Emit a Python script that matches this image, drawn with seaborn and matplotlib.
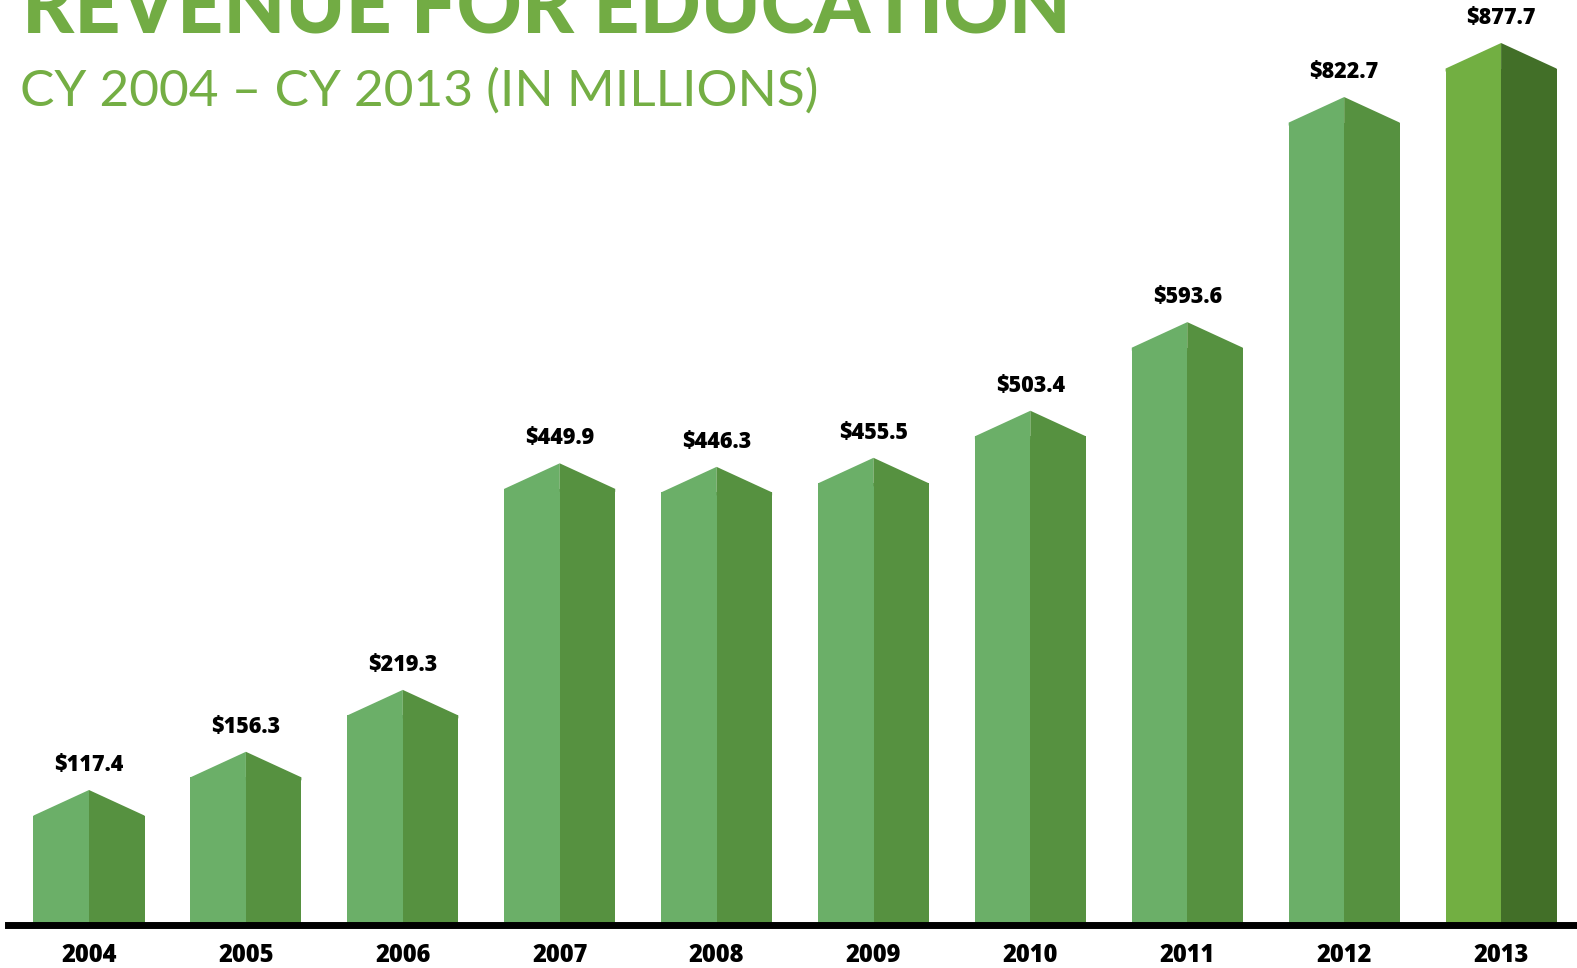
import matplotlib
matplotlib.use("Agg")
import matplotlib.pyplot as plt
import seaborn as sns
import pandas as pd

# dados (milhões de dólares)
anos = ["2004", "2005", "2006", "2007", "2008", "2009", "2010", "2011", "2012", "2013"]
receita = [117.4, 156.3, 219.3, 449.9, 446.3, 455.5, 503.4, 593.6, 822.7, 877.7]
rotulos = ["$117.4", "$156.3", "$219.3", "$449.9", "$446.3",
           "$455.5", "$503.4", "$593.6", "$822.7", "$877.7"]

titulo = "REVENUE FOR EDUCATION"
subtitulo = "CY 2004 \u2013 CY 2013 (IN MILLIONS)"

# estilo
VERDE_TITULO = "#72ac44"
CLARO, ESCURO = "#6baf68", "#569140"
CLARO_DESTAQUE, ESCURO_DESTAQUE = "#72af42", "#426f28"
TELHADO = 26          # altura do "telhado" de cada barra
LARGURA = 0.7075
BASE = -21            # as barras nascem abaixo da linha preta

sns.set_theme(style="white")
plt.rcParams["font.family"] = ["Open Sans", "DejaVu Sans"]

W, H = 1577, 968
fig = plt.figure(figsize=(W / 100, H / 100), dpi=100)
# eixo: começa em x=8px, base em y=925px
ax = fig.add_axes([8 / W, (H - 925) / H, 1 - 8 / W, 925 / H])

corpo = [v - TELHADO for v in receita]
df = pd.DataFrame({
    "ano": anos * 2,
    "altura": [c - BASE for c in corpo] * 2,
    "lado": ["esq"] * len(anos) + ["dir"] * len(anos),
})
sns.barplot(data=df, x="ano", y="altura", hue="lado", hue_order=["esq", "dir"],
            palette={"esq": CLARO, "dir": ESCURO}, width=LARGURA, bottom=BASE,
            dodge=True, gap=0, linewidth=0, saturation=1, legend=False, ax=ax)

# último ano em destaque
ax.containers[0][-1].set_facecolor(CLARO_DESTAQUE)
ax.containers[1][-1].set_facecolor(ESCURO_DESTAQUE)

# telhados (sobrepostos um pouco ao corpo para não deixar emenda)
for i, (v, c) in enumerate(zip(receita, corpo)):
    esq, dir_ = (CLARO_DESTAQUE, ESCURO_DESTAQUE) if i == len(anos) - 1 else (CLARO, ESCURO)
    ax.fill([i - LARGURA / 2, i - LARGURA / 2, i, i], [c - 3, c, v, c - 3], color=esq, lw=0)
    ax.fill([i, i, i + LARGURA / 2, i + LARGURA / 2], [c - 3, v, c, c - 3], color=dir_, lw=0)
    ax.annotate(rotulos[i], (i, v), xytext=(0, 18), textcoords="offset points",
                ha="center", va="center", fontsize=15.5, fontweight="heavy", color="black")

ax.set_xlim(-81 / 156.9, (1569 - 81) / 156.9)
ax.set_ylim(-20, -20 + 925 / 0.9825)
ax.set_xlabel("")
ax.set_ylabel("")
ax.set_yticks([])
for lado in ["left", "right", "top"]:
    ax.spines[lado].set_visible(False)
ax.spines["bottom"].set_color("black")
ax.spines["bottom"].set_linewidth(5)
ax.tick_params(axis="x", length=0, pad=13, labelsize=17, labelcolor="black")
for t in ax.get_xticklabels():
    t.set_fontweight("heavy")

fig.text(22 / W, 1 - 33 / H, titulo, ha="left", va="baseline", fontsize=58,
         fontweight="black", color=VERDE_TITULO, family=["Lato", "DejaVu Sans"])
fig.text(20 / W, 1 - 106 / H, subtitulo, ha="left", va="baseline", fontsize=37,
         fontweight="normal", color="#74ae44", family=["Lato", "DejaVu Sans"])

fig.savefig("out.png", dpi=100)
